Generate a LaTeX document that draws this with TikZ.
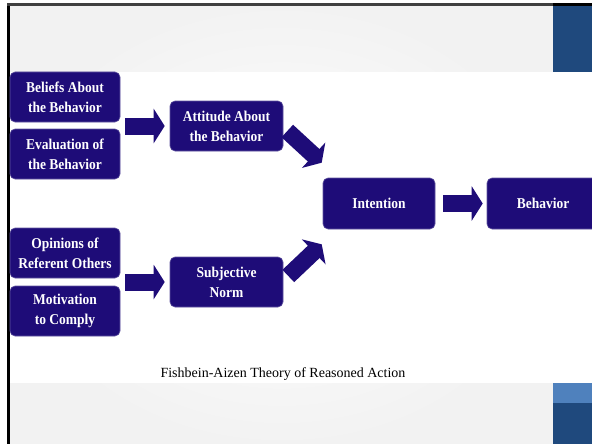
\documentclass[tikz,border=0pt]{standalone}
\usepackage{fontspec}
\setmainfont{Liberation Serif}
\newfontfamily\boxfont[FakeStretch=0.9]{Liberation Serif}
\usetikzlibrary{arrows.meta,calc}
\definecolor{boxfill}{RGB}{30,12,120}
\definecolor{darkband}{RGB}{31,73,125}
\definecolor{lightband}{RGB}{79,129,189}

\begin{document}
\begin{tikzpicture}[x=1pt,y=-1pt,
  stepbox/.style={rectangle, rounded corners=5pt, fill=boxfill,
    draw=boxfill!70!white, line width=0.6pt, text=white,
    font=\boxfont\bfseries\fontsize{15}{20}\selectfont, align=center,
    minimum height=50pt, inner sep=0pt},
  leftbox/.style={stepbox, minimum width=110pt},
  midbox/.style={stepbox, minimum width=113pt},
  blockarrow/.style={draw=boxfill, line width=17pt,
    -{Triangle[length=11pt,width=34pt]}},
  caption/.style={font=\fontsize{14}{16}\selectfont}
]
% page and slide background
\useasboundingbox (0,0) rectangle (592,444);
\fill[white] (0,0) rectangle (592,444);
\shade[inner color=white, outer color=gray!10] (10,6) rectangle (553,444);
\fill[white] (10,72) rectangle (592,383);
% frame lines
\fill[black] (7,3) rectangle (10,444);
\fill[black!75] (7,3) rectangle (553,6);
\fill[black] (553,3) rectangle (592,6);
% accent bands on the right
\fill[darkband] (553,6) rectangle (592,72);
\fill[lightband] (553,383) rectangle (592,403);
\fill[darkband] (553,403) rectangle (592,444);

% boxes
\node[leftbox] (bel) at (65,97) {Beliefs About\\the Behavior};
\node[leftbox] (eva) at (65,154) {Evaluation of\\the Behavior};
\node[leftbox] (opi) at (65,253) {Opinions of\\Referent Others};
\node[leftbox] (mot) at (65,311) {Motivation\\to Comply};
\node[midbox] (att) at (226.5,126) {Attitude About\\the Behavior};
\node[midbox] (sub) at (226.5,282) {Subjective\\Norm};
\node[stepbox, minimum width=112pt, minimum height=51pt] (int) at (379,203.5) {Intention};
\node[stepbox, minimum width=112pt, minimum height=51pt] (beh) at (543,203.5) {Behavior};

% block arrows
\draw[blockarrow, shorten <=5pt, shorten >=5pt] (att.west -| bel.east) -- (att.west);
\draw[blockarrow, shorten <=5pt, shorten >=5pt] (sub.west -| opi.east) -- (sub.west);
\draw[blockarrow] ([shift={(4,5)}]att.east) -- ([shift={(-1,-15)}]int.north west);
\draw[blockarrow] ([shift={(5,-6)}]sub.east) -- ([shift={(-1,15)}]int.south west);
\draw[blockarrow, shorten <=8pt, shorten >=4pt] (int.east) -- (beh.west);

% caption
\node[caption] (cap) at (283,374) {Fishbein-Aizen Theory of Reasoned Action};
\end{tikzpicture}
\end{document}
